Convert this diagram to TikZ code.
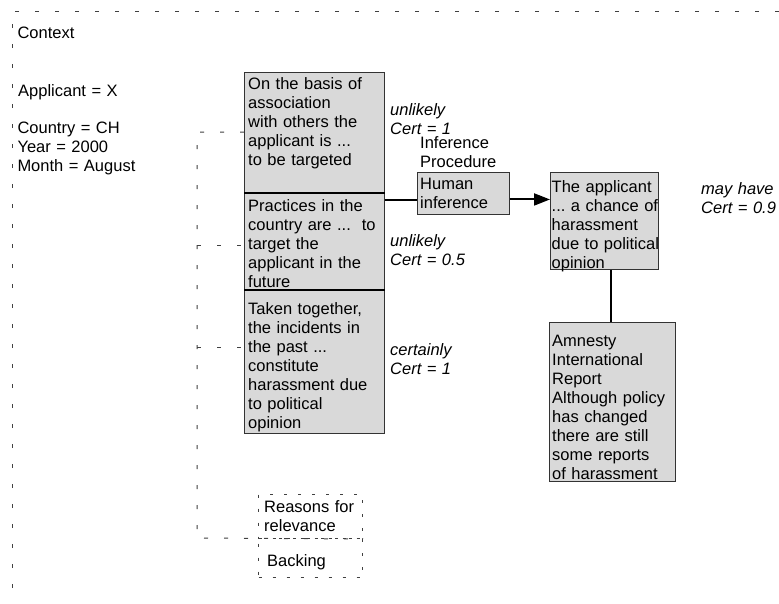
\documentclass[tikz,border=0pt]{standalone}
\usepackage{fontspec}
\setmainfont{Liberation Sans}
\usetikzlibrary{arrows.meta}
\hyphenpenalty=10000
\exhyphenpenalty=10000
\begin{document}
\begin{tikzpicture}[x=1pt,y=-1pt,
  txt/.style={inner sep=0pt, anchor=base west, font=\fontsize{16.5}{19}\selectfont, text width=#1, align=left},
  itxt/.style={txt=#1, font=\fontsize{16.5}{19}\selectfont\itshape},
  gbox/.style={draw=black!80, fill=gray!30, line width=0.9pt, anchor=north west, inner sep=0pt},
  divider/.style={line width=2pt, black},
  conn/.style={line width=2pt, black},
  farframe/.style={draw=black!75, line width=1pt, dash pattern=on 4pt off 16pt},
  smalldash/.style={draw=black!75, line width=1pt, dash pattern=on 3pt off 11pt, inner sep=0pt, anchor=north west}
]
\useasboundingbox (0,0) rectangle (779,603);
\fill[white] (0,0) rectangle (779,603);

% context frame
\coordinate (ctxTR) at (779,11);
\coordinate (ctxTL) at (12,11);
\coordinate (ctxBL) at (12,603);
\draw[farframe] (ctxTR) -- (ctxTL) -- (ctxBL);

\node[txt=80pt] (ctx) at (17.3,38.3) {Context};
\node[txt=110pt] (appl) at (18,96) {Applicant = X};
\node[txt=122pt] (ctry) at (17.3,133) {Country = CH\\Year = 2000\\Month = August};

% stacked premise column
\node[gbox, minimum width=140pt, minimum height=120pt] (b1) at (244,72) {};
\node[gbox, minimum width=140pt, minimum height=97pt] (b2) at (244,192) {};
\node[gbox, minimum width=140pt, minimum height=144pt] (b3) at (244,289) {};
\draw[divider] (b1.south west) -- (b1.south east);
\draw[divider] (b2.south west) -- (b2.south east);

\node[txt=130pt] (t1) at (248,89) {On the basis of\\association\\with others the\\applicant is ...\\to be targeted};
\node[txt=130pt] (t2) at (248,211) {Practices in the\\country are ...~~to\\target the\\applicant in the\\future};
\node[txt=130pt] (t3) at (248,314) {Taken together,\\the incidents in\\the past ...\\constitute\\harassment due\\to political\\opinion};

\node[itxt=62pt] (u1) at (390,115.5) {unlikely\\Cert = 1};
\node[itxt=76pt] (u2) at (390,246) {unlikely\\Cert = 0.5};
\node[itxt=66pt] (c3) at (390,355.5) {certainly\\Cert = 1};

% inference
\node[txt=78pt] (inf) at (420,148) {Inference\\Procedure};
\node[gbox, minimum width=92pt, minimum height=42pt] (hi) at (417,172) {};
\node[txt=80pt] (hum) at (420,189) {Human\\inference};

% claim
\node[gbox, minimum width=108pt, minimum height=97pt] (app) at (550,172) {};
\node[txt=112pt] (appt) at (551.5,192) {The applicant\\...~a chance of\\harassment\\due to political\\opinion};
\node[itxt=76pt] (may) at (701,194) {may have\\Cert = 0.9};

% backing report
\node[gbox, minimum width=126pt, minimum height=159pt] (amn) at (549,322) {};
\node[txt=120pt] (amt) at (552,346) {Amnesty\\International\\Report\\Although policy\\has changed\\there are still\\some reports\\of harassment};

% connectors
\draw[conn] ([yshift=-8pt]b2.north east) -- ([yshift=-8pt]b2.north east -| hi.west);
\draw[conn, -{Triangle[length=16pt,width=12pt]}] ([yshift=-6pt]hi.east) -- ([yshift=-6pt]hi.east -| app.west);
\draw[conn] ([xshift=7pt]app.south) -- ([xshift=7pt]app.south |- amn.north);

% reasons and backing boxes
\node[smalldash, draw, minimum width=104pt, minimum height=44pt] (rel) at (258,494) {};
\node[smalldash, draw, minimum width=104pt, minimum height=39pt] (back) at (258,538) {};
\node[txt=92pt] (relt) at (264,512.5) {Reasons for\\relevance};
\node[txt=60pt] (bkt) at (267,566.5) {Backing};

% dashed bracket
\coordinate (brTop) at (197,132);
\coordinate (brMid) at (197,245);
\coordinate (brLow) at (197,347);
\coordinate (brBot) at (197,538);
\draw[farframe] (b1.west |- brTop) -- (brTop) -- (brBot) -- (rel.south east);
\draw[farframe] (brMid) -- (b2.west |- brMid);
\draw[farframe] (brLow) -- (b3.west |- brLow);
\end{tikzpicture}
\end{document}
